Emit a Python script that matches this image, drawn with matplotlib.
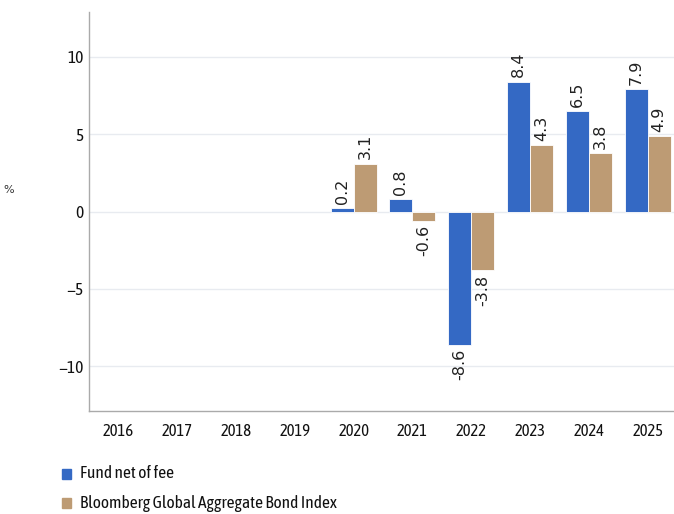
import matplotlib
matplotlib.use("Agg")
import matplotlib.pyplot as plt
from matplotlib import font_manager
import numpy as np

years = ["2016", "2017", "2018", "2019", "2020", "2021", "2022", "2023", "2024", "2025"]
fund = [np.nan, np.nan, np.nan, np.nan, 0.2, 0.8, -8.6, 8.4, 6.5, 7.9]
index = [np.nan, np.nan, np.nan, np.nan, 3.1, -0.6, -3.8, 4.3, 3.8, 4.9]
series_names = ["Fund net of fee", "Bloomberg Global Aggregate Bond Index"]
yticks = [-10, -5, 0, 5, 10]

names = {f.name for f in font_manager.fontManager.ttflist}
if "Asap Condensed" in names:
    fprop = dict(family=["Asap Condensed", "DejaVu Sans"])
else:
    fprop = dict(family="DejaVu Sans", stretch="condensed")

W, H = 674, 514
fig = plt.figure(figsize=(W/100, H/100), dpi=100)
left, right, top, bottom = 89, 677, 12, 411
ax = fig.add_axes([left/W, 1-bottom/H, (right-left)/W, (bottom-top)/H])

blue = "#3469c4"
tan = "#bd9b74"
x = np.arange(len(years))
bw = 0.39
ax.bar(x - bw/2, fund, width=bw, color=blue, edgecolor="white", linewidth=0.6, zorder=3)
ax.bar(x + bw/2, index, width=bw, color=tan, edgecolor="white", linewidth=0.6, zorder=3)

for xi, vals in [(x - bw/2, fund), (x + bw/2, index)]:
    for xx, v in zip(xi, vals):
        if np.isnan(v):
            continue
        if v >= 0:
            ax.annotate(f"{v:.1f}", (xx, v), xytext=(0, 3), textcoords="offset points",
                        rotation=90, ha="center", va="bottom", fontsize=11.5, color="#222222",
                        family="DejaVu Sans", zorder=4)
        else:
            ax.annotate(f"{v:.1f}", (xx, v), xytext=(0, -3), textcoords="offset points",
                        rotation=90, ha="center", va="top", fontsize=11.5, color="#222222",
                        family="DejaVu Sans", zorder=4)

ax.set_xlim(-0.5, len(years) - 0.5)
ax.set_ylim(-12.9, 12.9)
ax.set_yticks(yticks)
ax.set_yticklabels([str(t).replace("-", "\u2212") for t in yticks], fontsize=12.5, color="#111111", **fprop)
ax.set_xticks(x)
ax.set_xticklabels(years, fontsize=12, color="#111111", **fprop)
ax.tick_params(axis="both", length=0, pad=9)
ax.tick_params(axis="y", pad=4)
ax.grid(axis="y", color="#e8ebf0", linewidth=1, zorder=0)
for s in ["top", "right"]:
    ax.spines[s].set_visible(False)
for s in ["left", "bottom"]:
    ax.spines[s].set_color("#aaaaaa")
    ax.spines[s].set_linewidth(1)

fig.text(9/W, 1-190/H, "%", fontsize=8, color="#333333", ha="center", va="center", family="DejaVu Sans")

for i, (name, c) in enumerate(zip(series_names, [blue, tan])):
    yy = 474 + i*29
    fig.patches.append(plt.Rectangle((62/W, 1-(yy+5)/H), 9/W, 10/H, transform=fig.transFigure,
                                     color=c, figure=fig))
    fig.text(80/W, 1-yy/H, name, fontsize=12.5, color="#111111", ha="left", va="center", **fprop)

fig.savefig("out.png", dpi=100)
